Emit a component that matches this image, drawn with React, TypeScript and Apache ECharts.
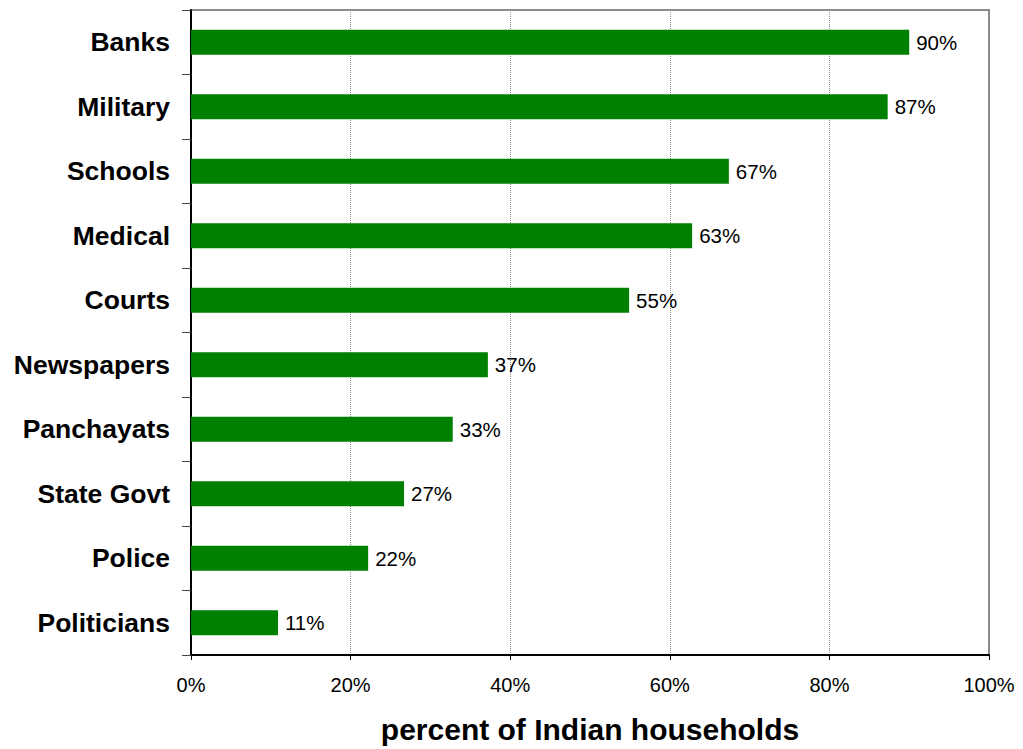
import React, { useEffect, useRef } from "react";
import * as echarts from "echarts";

const categories = ["Banks", "Military", "Schools", "Medical", "Courts", "Newspapers", "Panchayats", "State Govt", "Police", "Politicians"];
const values = [90, 87.3, 67.4, 62.8, 54.9, 37.2, 32.8, 26.7, 22.2, 10.9];
const xTicks = [0, 20, 40, 60, 80, 100];
const axisTitle = "percent of Indian households";

export default function App() {
  const ref = useRef<HTMLDivElement>(null);
  useEffect(() => {
    const chart = echarts.init(ref.current!, null, { renderer: "svg" });
    const font = "'Liberation Sans', Arial, sans-serif";
    chart.setOption({
      animation: false,
      backgroundColor: "#ffffff",
      textStyle: { fontFamily: font },
      grid: {
        left: 191,
        top: 10,
        right: 34,
        bottom: 92,
        show: true,
        borderColor: "#8c8c8c",
        borderWidth: 2,
        backgroundColor: "transparent",
      },
      xAxis: {
        type: "value",
        min: xTicks[0],
        max: xTicks[xTicks.length - 1],
        interval: 20,
        name: axisTitle,
        nameLocation: "middle",
        nameGap: 59,
        nameTextStyle: { fontSize: 30, fontWeight: "bold", color: "#000", fontFamily: font },
        axisLine: { show: true, lineStyle: { color: "#000", width: 2 } },
        axisTick: { show: true, length: 5, lineStyle: { color: "#000", width: 1 } },
        axisLabel: { fontSize: 20, color: "#000", margin: 20, formatter: (v: number) => v + "%", fontFamily: font },
        splitLine: { show: true, lineStyle: { color: "#8c8c8c", type: "dotted", width: 1 } },
      },
      yAxis: {
        type: "category",
        data: categories,
        inverse: true,
        axisLine: { show: true, lineStyle: { color: "#000", width: 2 } },
        axisTick: { show: true, length: 9, lineStyle: { color: "#444", width: 1 } },
        axisLabel: { fontSize: 26.5, fontWeight: "bold", color: "#000", margin: 21, fontFamily: font },
        splitLine: { show: false },
      },
      series: [
        {
          type: "bar",
          data: values,
          barWidth: 25,
          itemStyle: { color: "#008000" },
          label: {
            show: true,
            position: "right",
            distance: 7,
            fontSize: 20.5,
            color: "#000",
            fontFamily: font,
            formatter: (p: any) => Math.round(p.value) + "%",
          },
        },
      ],
    });
    return () => chart.dispose();
  }, []);
  return <div ref={ref} style={{ position: "fixed", left: 0, top: 0, width: 1023, height: 749 }} />;
}
